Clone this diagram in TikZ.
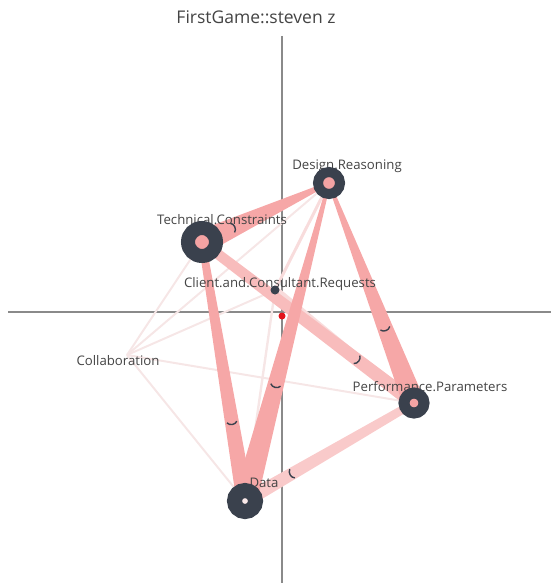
\documentclass[tikz,border=0pt]{standalone}
\usepackage{fontspec}
\setmainfont{Open Sans}
\usetikzlibrary{calc,backgrounds}

\definecolor{nodedark}{HTML}{3A414D}
\definecolor{nodepink}{HTML}{F4A3A3}
\definecolor{nodepale}{HTML}{FBE9E9}
\definecolor{edgered}{HTML}{F6A7A7}
\definecolor{edgemid}{HTML}{F8BCBC}
\definecolor{edgelight}{HTML}{F9CACA}
\definecolor{edgepale}{HTML}{F8DCDC}
\definecolor{edgefaint}{HTML}{F6E6E6}
\definecolor{axisgray}{HTML}{8A8A8A}
\definecolor{labelgray}{HTML}{444444}
\definecolor{meanred}{HTML}{E3141B}

% tapered edge: from, to, half width at from, half width at to, colour
\newcommand{\tapered}[5]{%
  \fill[#5] ($(#1)!#3!90:(#2)$) -- ($(#2)!#4!-90:(#1)$) -- ($(#2)!#4!90:(#1)$) -- ($(#1)!#3!-90:(#2)$) -- cycle;}
% small tick across an edge
\newcommand{\midtick}[3]{%
  \coordinate (m) at ($(#1)!#3!(#2)$);
  \draw[tick] ($(m)!5pt!90:(#2)$) to[bend left=60] ($(m)!5pt!-90:(#2)$);}

\begin{document}
\begin{tikzpicture}[x=1pt,y=-1pt,
  ring/.style={circle,draw=nodedark,fill=nodepink,inner sep=0pt},
  code label/.style={font=\fontsize{13.2}{15}\selectfont,text=labelgray,inner sep=0pt},
  tick/.style={draw=nodedark,line width=1.4pt},
  axis/.style={draw=axisgray,line width=1.5pt}]
\useasboundingbox (0,0) rectangle (551,583);
\node[font=\fontsize{17.5}{20}\selectfont,text=labelgray] (title) at (256,17) {FirstGame::steven z};

\coordinate (yTop) at (282,36);
\coordinate (yBot) at (282,583);
\coordinate (xLeft) at (8,312);
\coordinate (xRight) at (551,312);

\begin{scope}[every node/.style={code label}]
\node (lDR) at (347,166) {Design.Reasoning};
\node (lTC) at (222,220) {Technical.Constraints};
\node (lCCR) at (280,284) {Client.and.Consultant.Requests};
\node (lCol) at (118,361) {Collaboration};
\node (lPP) at (430,387) {Performance.Parameters};
\node (lDat) at (264,483) {Data};
\end{scope}

\node[ring,minimum size=22pt,line width=10pt] (dr) at (329,183) {};
\node[ring,minimum size=28pt,line width=14pt] (tc) at (202,242) {};
\node[ring,minimum size=20pt,line width=11pt] (pp) at (414,403) {};
\node[ring,minimum size=21pt,line width=15pt,fill=nodepale] (dat) at (245,501) {};
\node[circle,fill=nodedark,minimum size=9pt,inner sep=0pt] (ccr) at (275,290) {};
\node[inner sep=0pt] (col) at (127,355) {};
\node[circle,fill=meanred,minimum size=7pt,inner sep=0pt] (mean) at (282,316) {};

\begin{pgfonlayer}{background}
\draw[axis] (yTop) -- (yBot);
\draw[axis] (xLeft) -- (xRight);
% weak links
\tapered{col}{tc}{1pt}{1pt}{edgefaint}
\tapered{col}{dr}{1pt}{1pt}{edgefaint}
\tapered{col}{ccr}{1pt}{1pt}{edgefaint}
\tapered{col}{pp}{1pt}{1pt}{edgefaint}
\tapered{col}{dat}{1pt}{1pt}{edgefaint}
\tapered{ccr}{dat}{1.2pt}{1.2pt}{edgefaint}
\tapered{ccr}{dr}{1.5pt}{1.5pt}{edgepale}
\tapered{ccr}{pp}{4pt}{3pt}{edgepale}
% strong links
\tapered{dat}{pp}{7pt}{4pt}{edgelight}
\tapered{tc}{pp}{5pt}{7pt}{edgemid}
\tapered{dr}{pp}{1.5pt}{11pt}{edgered}
\tapered{tc}{dat}{3.5pt}{8.5pt}{edgered}
\tapered{dr}{dat}{1.5pt}{12pt}{edgered}
\tapered{tc}{dr}{12pt}{1.5pt}{edgered}
\midtick{tc}{dr}{0.24}
\midtick{dr}{dat}{0.635}
\midtick{tc}{dat}{0.695}
\midtick{dr}{pp}{0.66}
\midtick{tc}{pp}{0.73}
\midtick{pp}{dat}{0.72}
\end{pgfonlayer}
\end{tikzpicture}
\end{document}
